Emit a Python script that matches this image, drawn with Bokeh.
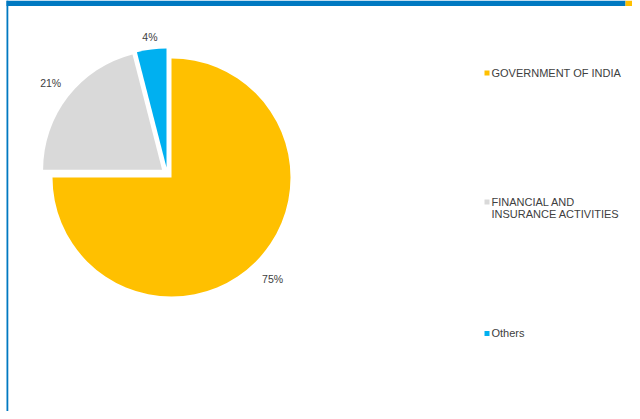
import numpy as np
from bokeh.plotting import figure
from bokeh.models import Range1d, ColumnDataSource
from bokeh.embed import file_html
from bokeh.resources import INLINE
from bokeh.core.properties import value

# ---- data ----
categories = ["GOVERNMENT OF INDIA", "FINANCIAL AND\nINSURANCE ACTIVITIES", "Others"]
shares = [75, 21, 4]
pct_labels = ["75%", "21%", "4%"]

# ---- style / layout ----
colors = ["#FFC000", "#D9D9D9", "#00B0F0"]
explode_dx = [0.0, -9.4, -5.0]   # px, screen
explode_dy = [0.0, 7.7, 10.0]    # px, upward
label_dist = [143, 141, 132]
FONT = "Liberation Sans"
TXT = "#404040"

W, H = 632, 411


def wy(y):
    """pixel y (from top) -> data y"""
    return H - y


p = figure(width=W, height=H, output_backend="svg", toolbar_location=None,
           x_range=Range1d(0, W), y_range=Range1d(0, H), min_border=0,
           x_axis_location=None, y_axis_location=None, outline_line_color=None,
           tools="", background_fill_color="white", border_fill_color="white")
p.grid.visible = False

# frame decorations (slide header bar, left rule)
p.quad(left=[6], right=[625], top=[wy(0)], bottom=[wy(5.5)], fill_color="#0079C1", line_color=None)
p.quad(left=[625], right=[W], top=[wy(0)], bottom=[wy(5.5)], fill_color="#FFC000", line_color=None)
p.quad(left=[6], right=[7.8], top=[wy(0)], bottom=[wy(H)], fill_color="#0079C1", line_color=None)

# pie
cx, cy, R = 171.0, wy(177), 119.0
total = float(sum(shares))
cum = np.concatenate([[0.0], np.cumsum(shares)]) / total
starts = np.pi / 2 - 2 * np.pi * cum[:-1]
ends = np.pi / 2 - 2 * np.pi * cum[1:]
xs = [cx + d for d in explode_dx]
ys = [cy + d for d in explode_dy]
src = ColumnDataSource(dict(x=xs, y=ys, start=starts, end=ends, color=colors))
p.wedge(x="x", y="y", radius=R, start_angle="start", end_angle="end", direction="clock",
        fill_color="color", line_color=None, source=src)

mids = (starts + ends) / 2
lx = [xs[i] + label_dist[i] * np.cos(mids[i]) for i in range(3)]
ly = [ys[i] + label_dist[i] * np.sin(mids[i]) for i in range(3)]
p.text(x=lx, y=ly, text=pct_labels, text_font=value(FONT), text_font_size="10.5px",
       text_color=TXT, text_align="center", text_baseline="middle")

# legend (drawn manually)
leg_sq_x, leg_txt_x = 486.5, 491.0
leg_top = [71.5, 200.5, 332.0]
line_h = 12.7
p.scatter(x=[leg_sq_x] * 3, y=[wy(t + 1) for t in leg_top], marker="square", size=5,
          fill_color=colors, line_color=None)
tx, ty, tt = [], [], []
for i, lab in enumerate(categories):
    for j, line in enumerate(lab.split("\n")):
        tx.append(leg_txt_x)
        ty.append(wy(leg_top[i] + j * line_h + 0.5))
        tt.append(line)
p.text(x=tx, y=ty, text=tt, text_font=value(FONT), text_font_size="11px",
       text_color=TXT, text_align="left", text_baseline="middle")

open("out.html", "w").write(file_html(p, INLINE))
